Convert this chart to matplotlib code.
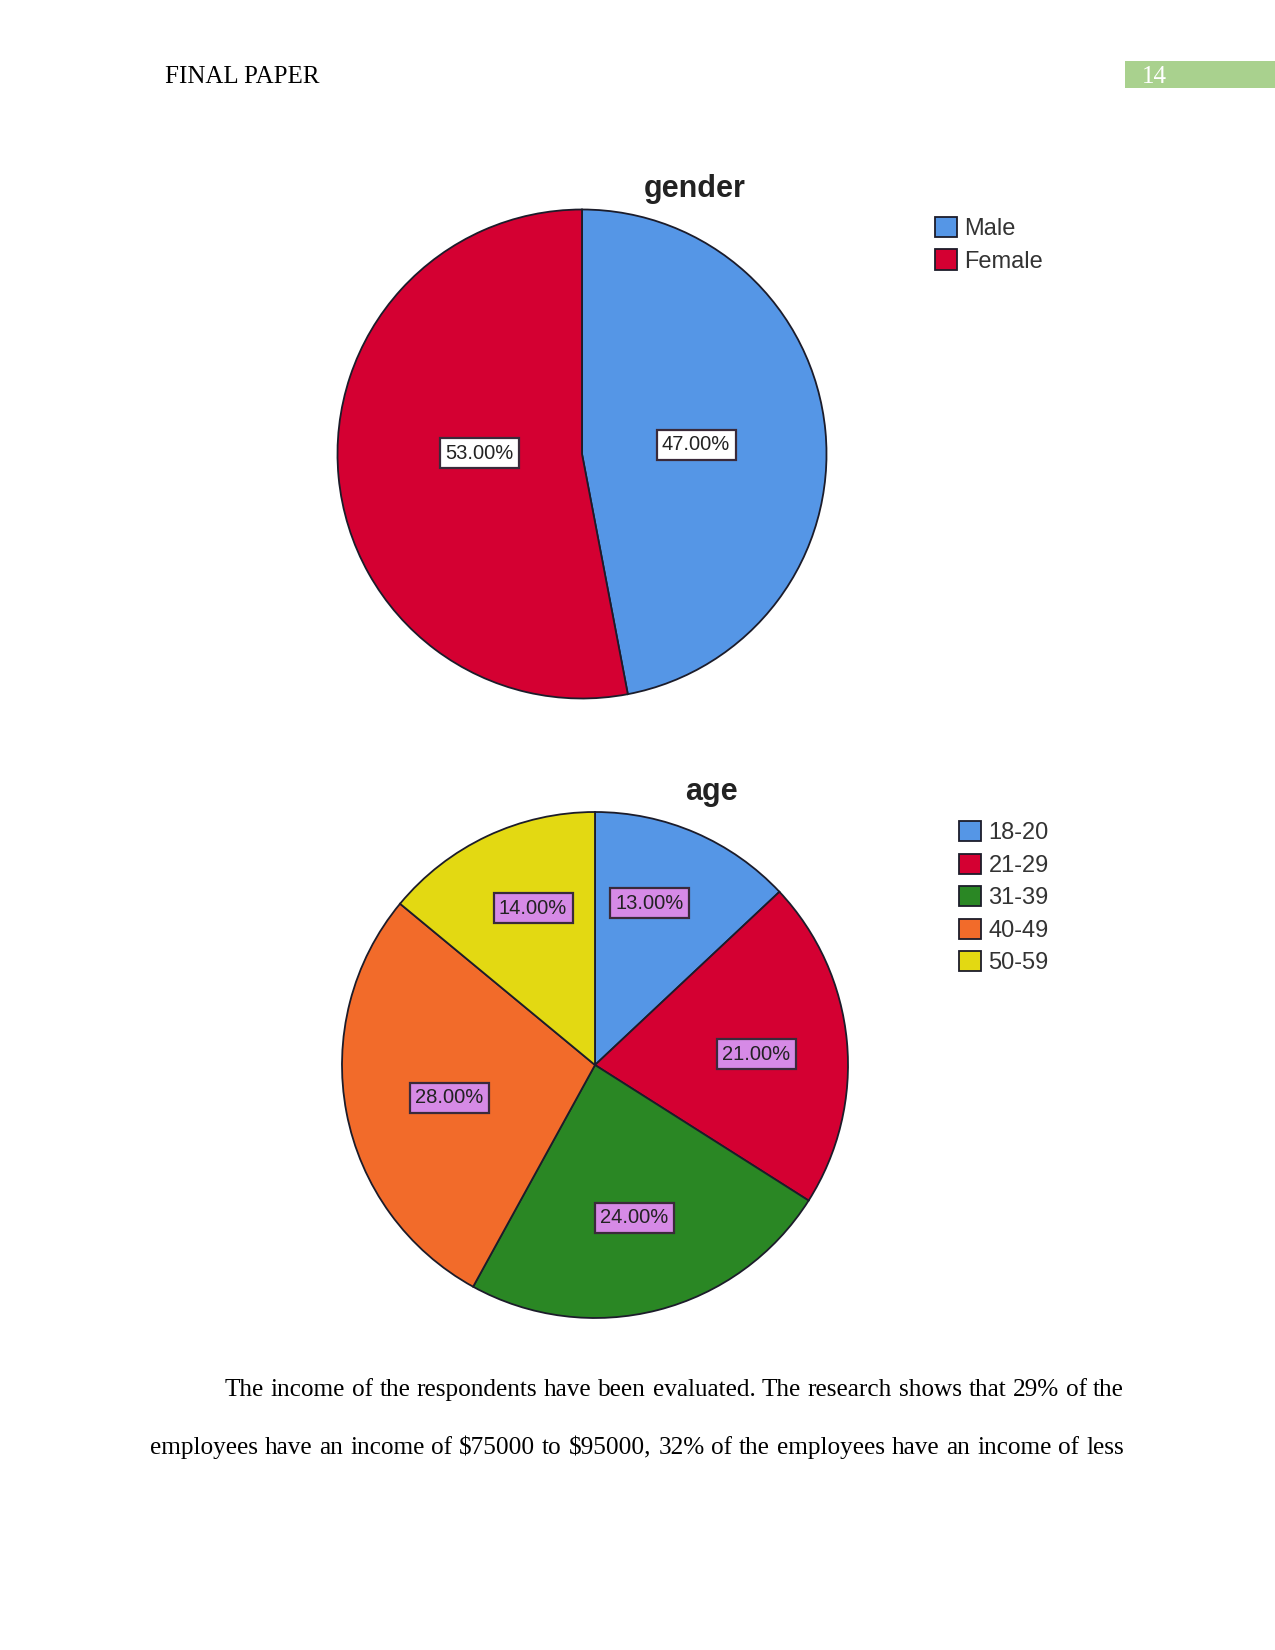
import matplotlib
matplotlib.use('Agg')
import matplotlib.pyplot as plt
from matplotlib.patches import Rectangle
import numpy as np

# ---------------- data ----------------
gender_labels = ['Male', 'Female']
gender_values = [47.0, 53.0]
age_labels = ['18-20', '21-29', '31-39', '40-49', '50-59']
age_values = [13.0, 21.0, 24.0, 28.0, 14.0]

header_text = 'FINAL PAPER'
page_number = '14'
body_lines = [
    'The income of the respondents have been evaluated. The research shows that 29% of the',
    'employees have an income of $75000 to $95000, 32% of the employees have an income of less',
]

# ---------------- style ----------------
W, H = 1275, 1650
gender_colors = ['#5596e6', '#d40032']
age_colors = ['#5596e6', '#d40032', '#2a8724', '#f26b2a', '#e3d912']
# (fraction along slice, radial distance) for the percentage labels
gender_label_pos = [(0.505, 0.468), (0.531, 0.42)]
age_label_pos = [(0.40, 0.676), (0.52, 0.638), (0.50, 0.624), (0.481, 0.59), (0.573, 0.667)]
SANS = 'Liberation Sans'
SERIF = 'Liberation Serif'

fig = plt.figure(figsize=(W / 100, H / 100), dpi=100)


def fx(x):
    return x / W


def fy(y):
    return 1 - y / H


def pie_axes(cx, cy, r):
    return fig.add_axes([(cx - r) / W, 1 - (cy + r) / H, 2 * r / W, 2 * r / H])


def draw_pie(ax, values, colors, label_face, label_pos):
    wedges, _ = ax.pie(values, colors=colors, startangle=90, counterclock=False,
                       radius=1, wedgeprops=dict(edgecolor='#1c1c2a', linewidth=1.3))
    ax.set_xlim(-1, 1)
    ax.set_ylim(-1, 1)
    ax.set_aspect('equal')
    for w in wedges:
        w.set_clip_on(False)
    total = sum(values)
    cum = 0.0
    for v, (frac, dist) in zip(values, label_pos):
        a0 = 90 - cum / total * 360
        a1 = 90 - (cum + v) / total * 360
        ang = np.deg2rad(a0 + frac * (a1 - a0))
        ax.text(dist * np.cos(ang), dist * np.sin(ang), f'{v:.2f}%',
                ha='center', va='center', fontsize=14.5, family=SANS, color='#222222',
                bbox=dict(boxstyle='square,pad=0.27', facecolor=label_face,
                          edgecolor='#3a2a3a', linewidth=1.6))
        cum += v
    return wedges


# gender pie
ax1 = pie_axes(582, 454, 244.5)
w1 = draw_pie(ax1, gender_values, gender_colors, 'white', gender_label_pos)
fig.text(fx(695), fy(189), 'gender', ha='center', va='center', fontsize=22,
         fontweight='bold', family=SANS, color='#222222')
fig.legend(w1, gender_labels, loc='upper left', bbox_to_anchor=(fx(935), fy(217)),
           frameon=False, handlelength=0.95, handleheight=0.95,
           handletextpad=0.3, labelspacing=0.38, borderpad=0, borderaxespad=0,
           prop=dict(family=SANS, size=17), labelcolor='#333333')

# age pie
ax2 = pie_axes(595, 1065, 253)
w2 = draw_pie(ax2, age_values, age_colors, '#d68ae6', age_label_pos)
fig.text(fx(711), fy(792), 'age', ha='center', va='center', fontsize=22,
         fontweight='bold', family=SANS, color='#222222')
fig.legend(w2, age_labels, loc='upper left', bbox_to_anchor=(fx(959), fy(821)),
           frameon=False, handlelength=0.95, handleheight=0.95,
           handletextpad=0.3, labelspacing=0.39, borderpad=0, borderaxespad=0,
           prop=dict(family=SANS, size=17), labelcolor='#333333')

# header
fig.text(fx(165), fy(83), header_text, ha='left', va='baseline', fontsize=18,
         family=SERIF, color='black')
fig.patches.append(Rectangle((fx(1125), fy(88)), fx(150), (88 - 61) / H,
                             transform=fig.transFigure, facecolor='#a9d18e',
                             edgecolor='none'))
fig.text(fx(1154), fy(83), page_number, ha='center', va='baseline', fontsize=18,
         family=SERIF, color='white')

# body text (justified)
renderer = fig.canvas.get_renderer()
line_specs = [(225, 1124, 1396), (150, 1124, 1454)]
for line, (x0, x1, yb) in zip(body_lines, line_specs):
    words = line.split(' ')
    txts = [fig.text(0, fy(yb), w, ha='left', va='baseline', fontsize=18.2,
                     family=SERIF, color='black') for w in words]
    widths = [t.get_window_extent(renderer).width for t in txts]
    gap = (x1 - x0 - sum(widths)) / (len(words) - 1)
    x = x0
    for t, wd in zip(txts, widths):
        t.set_x(fx(x))
        x += wd + gap

fig.savefig('out.png', dpi=100, facecolor='white')
